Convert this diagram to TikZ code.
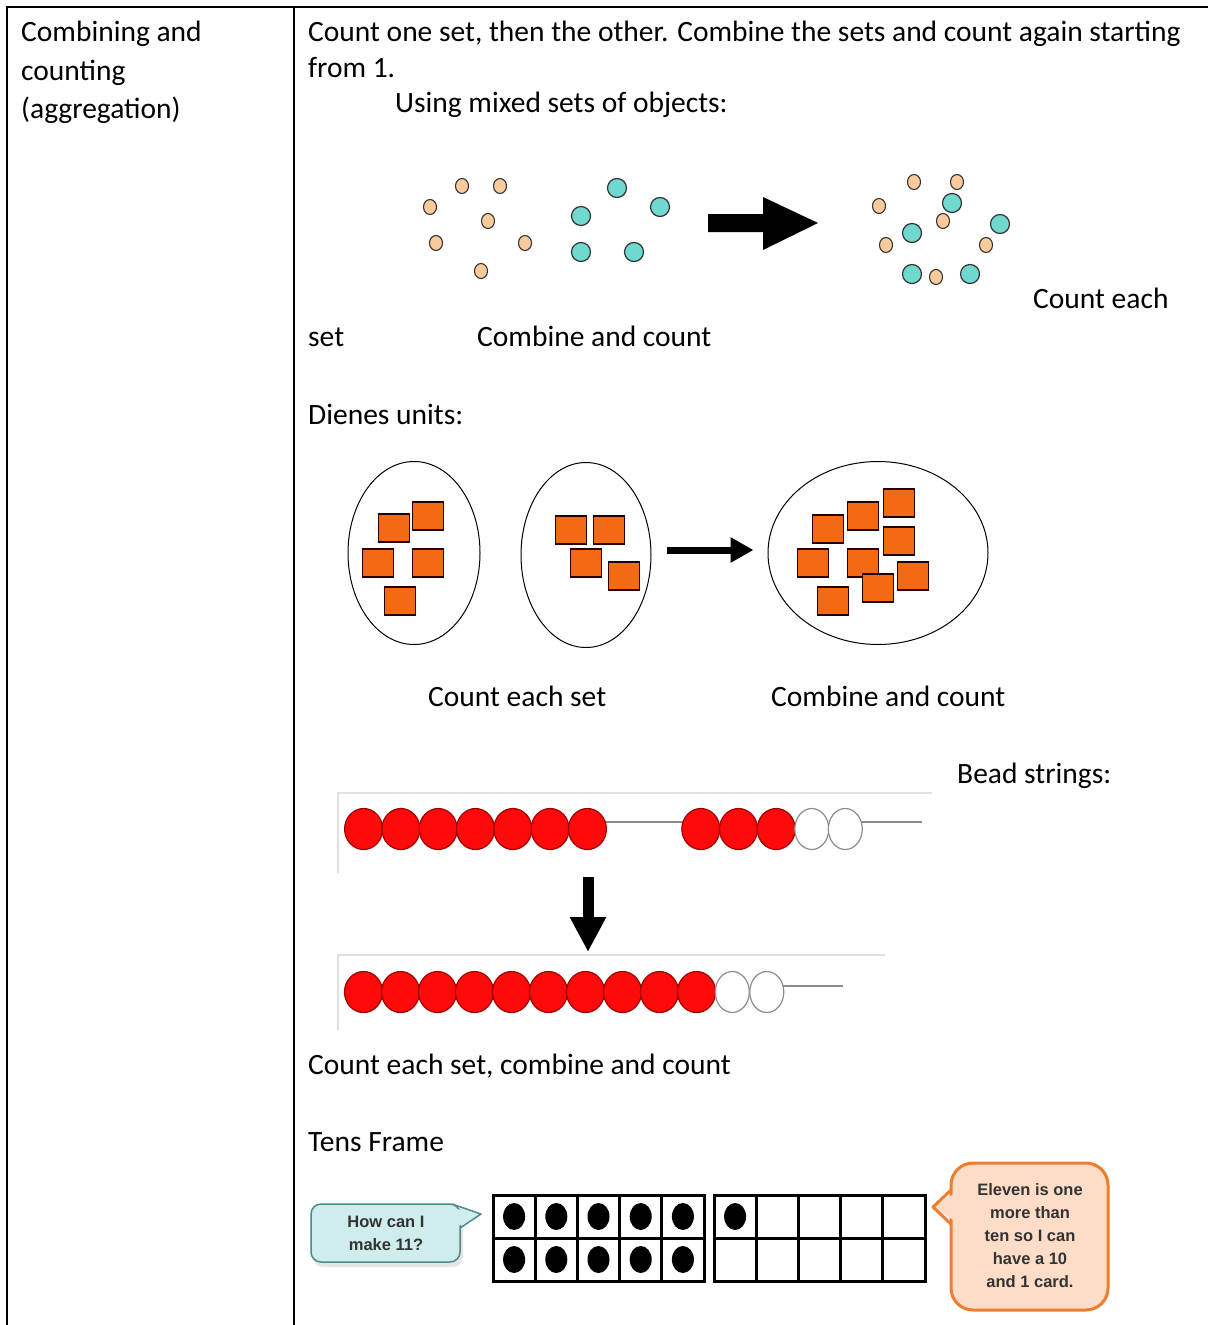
\documentclass[tikz,border=0pt]{standalone}
\usepackage{fontspec}
\setmainfont{Carlito}
\newfontfamily\bubblefont{Liberation Sans}
\usetikzlibrary{arrows.meta,shapes.geometric}

\definecolor{peach}{HTML}{F9CB9C}
\definecolor{aqua}{HTML}{6FD9D0}
\definecolor{cubeor}{HTML}{F26A14}
\definecolor{beadred}{HTML}{FF0A0A}
\definecolor{beadedge}{HTML}{A00000}
\definecolor{bubteal}{HTML}{CFEDEC}
\definecolor{bubtealedge}{HTML}{4E8A8C}
\definecolor{bubpeach}{HTML}{FDDDC8}
\definecolor{bubor}{HTML}{EE7D2E}

\begin{document}
\begin{tikzpicture}[x=1pt,y=-1pt,
  txt/.style={anchor=base west,inner sep=0pt,font=\fontsize{29.5}{38}\selectfont},
  rule/.style={line width=2.5pt,black},
  odot/.style={ellipse,draw=black!80,line width=1.1pt,fill=peach,minimum width=13pt,minimum height=15pt,inner sep=0pt},
  tdot/.style={circle,draw=black!80,line width=1.2pt,fill=aqua,minimum size=19pt,inner sep=0pt},
  setring/.style={ellipse,draw=black,line width=1pt,inner sep=0pt},
  cube/.style={rectangle,draw=black!85!red,line width=1.2pt,fill=cubeor,minimum width=31pt,minimum height=28pt,inner sep=0pt},
  rbead/.style={ellipse,draw=beadedge,line width=1.2pt,fill=beadred,minimum width=38pt,minimum height=41pt,inner sep=0pt},
  wbead/.style={ellipse,draw=black!45,line width=1.2pt,fill=white,minimum width=34pt,minimum height=41pt,inner sep=0pt},
  wire/.style={draw=black!45,line width=2pt},
  tray/.style={draw=black!12,line width=1.5pt},
  cell/.style={draw=black,line width=3pt},
  counter/.style={ellipse,fill=black,minimum width=22pt,minimum height=27pt,inner sep=0pt},
  bubtxt/.style={align=center,inner sep=0pt,text=black!80,font=\bubblefont\bfseries\fontsize{16.5}{23}\selectfont}
]
\useasboundingbox (0,0) rectangle (1208,1325);
\fill[white] (0,0) rectangle (1208,1325);

% table rules
\draw[rule] (6,7) -- (1208,7);
\draw[rule] (7,6) -- (7,1325);
\draw[rule] (294,6) -- (294,1325);

% left column
\node[txt] (h1) at (21,41) {Combining and};
\node[txt] (h2) at (21,80) {counting};
\node[txt] (h3) at (21,118) {(aggregation)};

% right column text
\node[txt] (t1) at (308,41) {Count one set, then the other. Combine the sets and count again starting};
\node[txt] (t2) at (308,77) {from 1.};
\node[txt] (t3) at (395,112) {Using mixed sets of objects:};
\node[txt] (t4) at (1033,308) {Count each};
\node[txt] (t5) at (308,346) {set};
\node[txt] (t6) at (477,346) {Combine and count};
\node[txt] (t7) at (308,424) {Dienes units:};
\node[txt] (t8) at (428,706) {Count each set};
\node[txt] (t9) at (771,706) {Combine and count};
\node[txt] (t10) at (957,783) {Bead strings:};
\node[txt] (t11) at (308,1074) {Count each set, combine and count};
\node[txt] (t12) at (308,1151) {Tens Frame};

% mixed sets of objects
\foreach \x/\y [count=\i] in {462/186,500/186,430/207,488/221,436/243,525/243,481/271}
  \node[odot] (oa\i) at (\x,\y) {};
\foreach \x/\y [count=\i] in {617/188,581/216,660/207,581/252,634/252}
  \node[tdot] (ta\i) at (\x,\y) {};
\fill[black] (708,214) -- (763,214) -- (763,197) -- (818,223) -- (763,250) -- (763,232) -- (708,232) -- cycle;
\foreach \x/\y [count=\i] in {952/203,1000/224,912/233,912/274,970/274}
  \node[tdot] (tb\i) at (\x,\y) {};
\foreach \x/\y [count=\i] in {914/182,957/182,879/206,943/221,886/245,986/245,936/277}
  \node[odot] (ob\i) at (\x,\y) {};

% Dienes units
\node[setring,minimum width=132pt,minimum height=183pt] (setA) at (414,553) {};
\node[setring,minimum width=130pt,minimum height=185pt] (setB) at (586,555) {};
\node[setring,minimum width=220pt,minimum height=183pt] (setC) at (878,553) {};
\foreach \x/\y [count=\i] in {394/528,428/516,378/563,428/563,400/601}
  \node[cube] (ca\i) at (\x,\y) {};
\foreach \x/\y [count=\i] in {571/530,609/530,586/563,624/576}
  \node[cube] (cb\i) at (\x,\y) {};
\foreach \x/\y [count=\i] in {828/529,863/516,899/503,899/541,813/563,863/563,913/576,878/588,833/601}
  \node[cube] (cc\i) at (\x,\y) {};
\coordinate (arrowlevel) at (0,550);
\draw[line width=7pt,-{Triangle[length=23pt,width=24pt]},shorten <=15pt,shorten >=14pt]
  (setB.east |- arrowlevel) -- (setC.west |- arrowlevel);

% bead strings
\draw[tray] (338,873) -- (338,793) -- (932,793);
\draw[wire] (600,822) -- (688,822);
\draw[wire] (858,822) -- (922,822);
\foreach \i in {0,...,6}
  \node[rbead] (sa\i) at ({363.6+37.3*\i},829) {};
\foreach \i in {0,1,2}
  \node[rbead] (sb\i) at ({700.8+37.7*\i},829) {};
\foreach \i in {0,1}
  \node[wbead] (sw\i) at ({811.8+33.5*\i},829) {};
\draw[tray] (338,1030) -- (338,955) -- (885,955);
\draw[wire] (780,986) -- (843,986);
\foreach \i in {0,...,9}
  \node[rbead] (sc\i) at ({363.5+37*\i},992) {};
\foreach \i in {0,1}
  \node[wbead] (sx\i) at ({732.3+34.5*\i},992) {};
\coordinate (dtop) at (588,877);
\coordinate (dtip) at (588,952);
\draw[line width=11pt,-{Triangle[length=35pt,width=34pt]}] (dtop) -- (dtip);

% tens frames
\foreach \fx in {493,714}
  \foreach \c in {0,...,4}
    \foreach \r in {0,1}
      \draw[cell] ({\fx+42.2*\c},{1195+43*\r}) rectangle ++(42.2,43);
\foreach \c in {0,...,4}
  \foreach \r in {0,1}
    \node[counter] (k\c\r) at ({493+21.1+42.2*\c},{1195+21.5+43*\r}) {};
\node[counter] (k50) at (714+21.1,1195+21.5) {};

% left speech bubble
\fill[black!30,opacity=0.35,rounded corners=10pt] (313,1208) rectangle (463,1267);
\fill[bubteal] (450,1205) -- (481,1214) -- (455,1229) -- cycle;
\draw[bubtealedge,fill=bubteal,line width=1.5pt,rounded corners=10pt] (311,1204) rectangle (460,1262);
\fill[bubteal] (448,1206.5) -- (477,1214.5) -- (458.5,1226) -- (448,1226) -- cycle;
\draw[bubtealedge,line width=1.5pt,line join=round] (452,1204) -- (481,1214) -- (460,1228);
\node[bubtxt] (q1) at (386,1233.5) {How can I\\make 11?};

% right speech bubble
\fill[bubpeach] (960,1190) -- (933,1207) -- (960,1224) -- cycle;
\draw[bubor,fill=bubpeach,line width=3pt,rounded corners=22pt] (951,1163) rectangle (1108,1310);
\fill[bubpeach] (955,1192.5) -- (936.5,1207) -- (955,1221.5) -- cycle;
\draw[bubor,line width=3pt,line join=round] (951,1190) -- (933,1207) -- (951,1224);
\node[bubtxt] (q2) at (1030,1236) {Eleven is one\\more than\\ten so I can\\have a 10\\and 1 card.};
\end{tikzpicture}
\end{document}
